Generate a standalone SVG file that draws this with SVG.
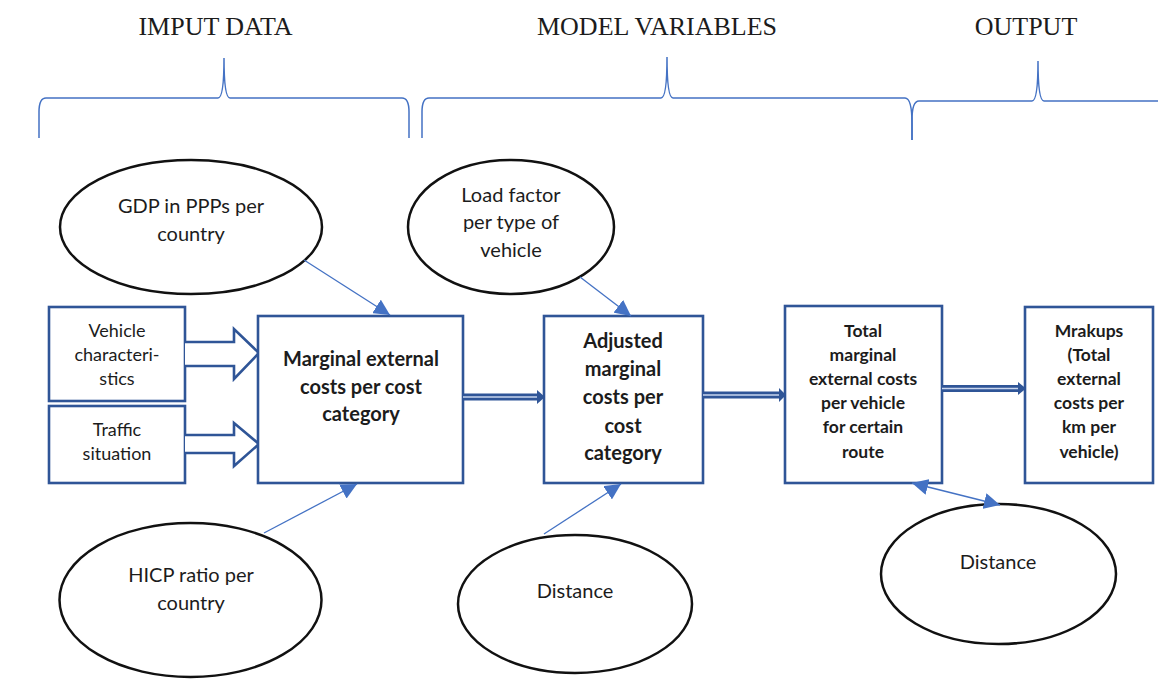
<svg xmlns="http://www.w3.org/2000/svg" width="1158" height="679" viewBox="0 0 1158 679">
  <style>
    .title { font-family: "Liberation Serif", "Times New Roman", serif; font-size: 26px; fill: #1c1c1c; text-anchor: middle; }
    .brace { fill: none; stroke: #4472C4; stroke-width: 1.5; }
    .oval { fill: #ffffff; stroke: #111111; stroke-width: 2.5; }
    .box { fill: #ffffff; stroke: #2F5597; stroke-width: 2.6; }
    .blk { fill: #ffffff; stroke: #2F5597; stroke-width: 2.6; stroke-linejoin: miter; }
    .t { font-family: Lato, "Liberation Sans", Arial, sans-serif; fill: #1c1c1c; text-anchor: middle; }
    .reg { font-size: 20px; }
    .sm { font-size: 18px; }
    .b20 { font-size: 20px; font-weight: bold; }
    .b18 { font-size: 17.5px; font-weight: bold; }
    .thin { fill: none; stroke: #4472C4; stroke-width: 1.3; }
    .dbl { stroke: #2F5597; stroke-width: 7; }
    .dbl-in { stroke: #c9d6ee; stroke-width: 1.6; }
    .head { fill: #2F5597; }
  </style>
  <defs>
    <marker id="tri" viewBox="0 0 16 16" refX="16" refY="8" markerWidth="16" markerHeight="16" markerUnits="userSpaceOnUse" orient="auto-start-reverse">
      <path d="M0,0 L16,8 L0,16 z" fill="#4472C4"/>
    </marker>
  </defs>
  <rect width="1158" height="679" fill="#ffffff"/>

  <!-- section headings and braces -->
  <g id="headings">
    <text class="title" x="215.5" y="35">IMPUT DATA</text>
    <text class="title" x="657" y="35">MODEL VARIABLES</text>
    <text class="title" x="1026" y="35">OUTPUT</text>
    <path class="brace" d="M39,138 L39,112 Q39,98 46,98 L218,98 Q224,98 224,58 Q224,98 230,98 L402,98 Q409,98 409,112 L409,138"/>
    <path class="brace" d="M422,138 L422,112 Q422,98 429,98 L661,98 Q667,98 667,57 Q667,98 673,98 L905,98 Q912,98 912,124 L912,140"/>
    <path class="brace" d="M912,140 L912,120 Q912,101 919,101 L1032,101 Q1038,101 1038,61 Q1038,101 1044,101 L1158,101"/>
  </g>

  <!-- input ellipses -->
  <g id="gdp">
    <ellipse class="oval" cx="191" cy="227" rx="131" ry="67"/>
    <text class="t reg" x="191" y="213">GDP in PPPs per</text>
    <text class="t reg" x="191" y="241">country</text>
  </g>
  <g id="hicp">
    <ellipse class="oval" cx="190.5" cy="600" rx="131" ry="77"/>
    <text class="t reg" x="191" y="582">HICP ratio per</text>
    <text class="t reg" x="191" y="610">country</text>
  </g>
  <g id="load-factor">
    <ellipse class="oval" cx="511" cy="227" rx="103" ry="67"/>
    <text class="t reg" x="511" y="202">Load factor</text>
    <text class="t reg" x="511" y="229">per type of</text>
    <text class="t reg" x="511" y="257">vehicle</text>
  </g>
  <g id="distance-1">
    <ellipse class="oval" cx="575" cy="604" rx="117" ry="69"/>
    <text class="t reg" x="575" y="598">Distance</text>
  </g>
  <g id="distance-2">
    <ellipse class="oval" cx="998.5" cy="574" rx="117.5" ry="70"/>
    <text class="t reg" x="998" y="569">Distance</text>
  </g>

  <!-- input boxes with block arrows -->
  <g id="vehicle">
    <rect class="box" x="49" y="307" width="136" height="94"/>
    <polyline class="blk" points="185,342 234,342 234,329 259,353 234,379 234,366 185,366"/>
    <text class="t sm" x="117" y="337">Vehicle</text>
    <text class="t sm" x="117" y="361">characteri-</text>
    <text class="t sm" x="117" y="385">stics</text>
  </g>
  <g id="traffic">
    <rect class="box" x="49" y="406" width="136" height="77"/>
    <polyline class="blk" points="185,435 234,435 234,423 259,444 234,466 234,453 185,453"/>
    <text class="t sm" x="117" y="436">Traffic</text>
    <text class="t sm" x="117" y="460">situation</text>
  </g>

  <!-- process boxes -->
  <g id="marginal">
    <rect class="box" x="258" y="316" width="205" height="167"/>
    <text class="t b20" x="361" y="366">Marginal external</text>
    <text class="t b20" x="361" y="394">costs per cost</text>
    <text class="t b20" x="361" y="421">category</text>
  </g>
  <g id="adjusted">
    <rect class="box" x="544" y="316" width="159" height="167"/>
    <text class="t b20" x="623" y="348">Adjusted</text>
    <text class="t b20" x="623" y="376">marginal</text>
    <text class="t b20" x="623" y="404">costs per</text>
    <text class="t b20" x="623" y="433">cost</text>
    <text class="t b20" x="623" y="460">category</text>
  </g>
  <g id="total">
    <rect class="box" x="785" y="306" width="157" height="177"/>
    <text class="t b18" x="863" y="337">Total</text>
    <text class="t b18" x="863" y="361">marginal</text>
    <text class="t b18" x="863" y="385">external costs</text>
    <text class="t b18" x="863" y="409">per vehicle</text>
    <text class="t b18" x="863" y="433">for certain</text>
    <text class="t b18" x="863" y="458">route</text>
  </g>
  <g id="markups">
    <rect class="box" x="1025" y="307" width="128" height="176"/>
    <text class="t b18" x="1089" y="337">Mrakups</text>
    <text class="t b18" x="1089" y="361">(Total</text>
    <text class="t b18" x="1089" y="385">external</text>
    <text class="t b18" x="1089" y="409">costs per</text>
    <text class="t b18" x="1089" y="433">km per</text>
    <text class="t b18" x="1089" y="458">vehicle)</text>
  </g>

  <!-- connectors -->
  <g id="connectors">
    <line class="thin" x1="304" y1="260" x2="390" y2="315" marker-end="url(#tri)"/>
    <line class="thin" x1="264" y1="533" x2="357" y2="484" marker-end="url(#tri)"/>
    <line class="thin" x1="580" y1="277" x2="631" y2="316" marker-end="url(#tri)"/>
    <line class="thin" x1="544" y1="534" x2="621" y2="484" marker-end="url(#tri)"/>
    <line class="thin" x1="912" y1="483" x2="1000" y2="505" marker-start="url(#tri)" marker-end="url(#tri)"/>

    <line class="dbl" x1="463" y1="397" x2="538" y2="397"/>
    <line class="dbl-in" x1="463" y1="397" x2="538" y2="397"/>
    <polygon class="head" points="537,390 545,397 537,404"/>

    <line class="dbl" x1="703" y1="395" x2="780" y2="395"/>
    <line class="dbl-in" x1="703" y1="395" x2="780" y2="395"/>
    <polygon class="head" points="779,388 786,395 779,402"/>

    <line class="dbl" x1="942" y1="388.5" x2="1019" y2="388.5"/>
    <line class="dbl-in" x1="942" y1="388.5" x2="1019" y2="388.5"/>
    <polygon class="head" points="1018,382 1026,388.5 1018,395"/>
  </g>
</svg>
